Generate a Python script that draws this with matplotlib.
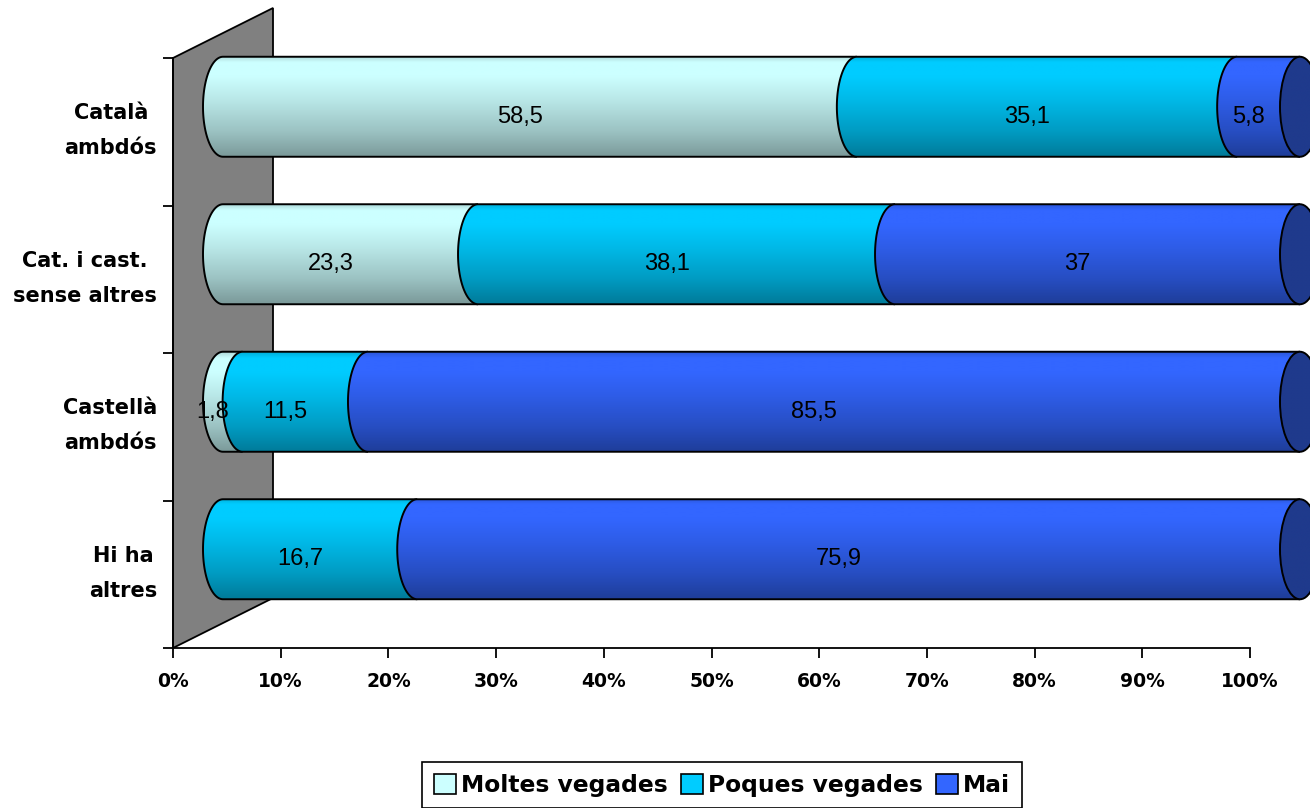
"""3D cylinder 100% stacked bars: language use by household type."""

import matplotlib

matplotlib.use("Agg")
import matplotlib.pyplot as plt
import numpy as np
from matplotlib.colors import to_rgb
from matplotlib.patches import Ellipse, Patch, PathPatch, Polygon
from matplotlib.path import Path


CATEGORIES = ["Català\nambdós", "Cat. i cast.\nsense altres", "Castellà\nambdós", "Hi ha\naltres"]
SERIES = ["Moltes vegades", "Poques vegades", "Mai"]
MOLTES_VEGADES = [58.5, 23.3, 1.8, 0.0]
POQUES_VEGADES = [35.1, 38.1, 11.5, 16.7]
MAI = [5.8, 37.0, 85.5, 75.9]
X_TICKS = [0, 10, 20, 30, 40, 50, 60, 70, 80, 90, 100]

COLORS = ["#CCFFFF", "#00CCFF", "#3366FF"]
CAP_COLOR = "#1F3A8C"
WALL_COLOR = "#808080"

# layout of the original picture, in pixels
W_PX, H_PX = 1310, 808
X0_PX, X100_PX = 173, 1250
YBOT_PX, YTOP_PX = 648, 58
DEPTH_PX = (100, 50)
BAR_PX = 100
CAP_PX = 20
CAT_PAD_PX = 16
CAT_RAISE_PX = 1

PX_X = (X100_PX - X0_PX) / 100.0
PX_Y = (YBOT_PX - YTOP_PX) / len(CATEGORIES)
DX = DEPTH_PX[0] / PX_X
DY = DEPTH_PX[1] / PX_Y
BAR_H = BAR_PX / PX_Y
CAP_W = CAP_PX / PX_X
LABEL_DEPTH = 0.3

SHADE_T = [0.0, 0.06, 0.2, 0.45, 0.75, 1.0]
SHADE_F = [0.85, 1.0, 1.0, 0.9, 0.76, 0.6]


def gradient(color, shade=True, n=240):
    t = np.linspace(0, 1, n)
    f = np.interp(t, SHADE_T, SHADE_F) if shade else np.ones(n)
    rgb = np.clip(np.outer(f, to_rgb(color)), 0, 1)
    return rgb.reshape(n, 1, 3)


def shaded_patch(ax, path, color, extent, zorder, shade=True):
    patch = PathPatch(path, facecolor="none", edgecolor="none", zorder=zorder)
    ax.add_patch(patch)
    im = ax.imshow(gradient(color, shade), extent=extent, aspect="auto",
                   origin="upper", zorder=zorder, interpolation="bilinear")
    im.set_clip_path(patch)
    im.set_clip_box(None)
    return im


def draw_segment(ax, x0, x1, cy, color, zorder):
    top, bot = cy + BAR_H / 2, cy - BAR_H / 2
    theta = np.linspace(np.pi / 2, 3 * np.pi / 2, 80)
    arc = np.column_stack([x0 + CAP_W * np.cos(theta), cy + BAR_H / 2 * np.sin(theta)])
    outline = np.vstack([[x1, top], arc, [x1, bot]])
    fill = Path(np.vstack([outline, outline[:1]]), closed=True)
    shaded_patch(ax, fill, color, (x0 - CAP_W, x1, bot, top), zorder)
    ax.add_patch(PathPatch(Path(outline), facecolor="none", edgecolor="black",
                           linewidth=1.4, zorder=zorder + 0.5))


def draw_end_cap(ax, xe, cy, zorder):
    theta = np.linspace(0, 2 * np.pi, 160)
    ring = np.column_stack([xe + CAP_W * np.cos(theta), cy + BAR_H / 2 * np.sin(theta)])
    path = Path(ring, closed=True)
    shaded_patch(ax, path, CAP_COLOR,
                 (xe - CAP_W, xe + CAP_W, cy - BAR_H / 2, cy + BAR_H / 2), zorder, shade=False)
    ax.add_patch(Ellipse((xe, cy), 2 * CAP_W, BAR_H, facecolor="none", edgecolor="black",
                         linewidth=1.4, zorder=zorder + 0.5))


def main():
    fig = plt.figure(figsize=(W_PX / 100, H_PX / 100), dpi=100)
    ax = fig.add_axes([0, 0, 1, 1])
    n = len(CATEGORIES)

    # back wall
    ax.add_patch(Polygon([(0, 0), (0, n), (DX, n + DY), (DX, DY)], closed=True,
                         facecolor=WALL_COLOR, edgecolor="black", linewidth=1.3, zorder=1))

    for spine in ("top", "right"):
        ax.spines[spine].set_visible(False)
    ax.spines["left"].set_position(("data", 0))
    ax.spines["bottom"].set_position(("data", 0))
    ax.spines["left"].set_bounds(0, n)
    ax.spines["bottom"].set_bounds(0, 100)
    for spine in ("left", "bottom"):
        ax.spines[spine].set_linewidth(1.3)

    ax.set_xticks(X_TICKS, [f"{t}%" for t in X_TICKS])
    ax.set_yticks(range(n + 1), [])
    ax.tick_params(axis="x", direction="out", length=7.2, width=1.3, pad=10, labelsize=13.5)
    ax.tick_params(axis="y", which="major", direction="out", length=7.2, width=1.3)
    for lbl in ax.get_xticklabels():
        lbl.set_fontweight("bold")

    # category names, two lines each, centred on their band
    for row, name in enumerate(CATEGORIES):
        i = n - 1 - row
        ax.text(-CAT_PAD_PX / PX_X, i + 0.5 + CAT_RAISE_PX / PX_Y, name, ha="right", va="center",
                multialignment="center", linespacing=1.95, fontsize=15, fontweight="bold")

    values = np.array([MOLTES_VEGADES, POQUES_VEGADES, MAI]).T
    for row, vals in enumerate(values):
        i = n - 1 - row
        cy = i + 0.5 + DY / 2
        pct = vals / vals.sum() * 100
        starts = np.concatenate([[0], np.cumsum(pct)[:-1]])
        z = 3
        for k, (s, w) in enumerate(zip(starts, pct)):
            if w <= 0:
                continue
            draw_segment(ax, s + DX / 2, s + w + DX / 2, cy, COLORS[k], z)
            z += 1
            label = f"{vals[k]:g}".replace(".", ",")
            ax.text(s + w / 2 + LABEL_DEPTH * DX, i + 0.5 + LABEL_DEPTH * DY, label,
                    ha="center", va="center", fontsize=17, family="Liberation Sans",
                    zorder=20)
        draw_end_cap(ax, 100 + DX / 2, cy, z)

    ax.set_xlim(-X0_PX / PX_X, (W_PX - X0_PX) / PX_X)
    ax.set_ylim(-(H_PX - YBOT_PX) / PX_Y, YBOT_PX / PX_Y)

    handles = [Patch(facecolor=c, edgecolor="black", linewidth=1.2) for c in COLORS]
    leg = fig.legend(handles, SERIES, loc="upper center",
                     bbox_to_anchor=(722 / W_PX, 1 - 762 / H_PX), ncol=3,
                     fancybox=False, edgecolor="black", framealpha=1,
                     prop={"weight": "bold", "size": 16.8},
                     handlelength=0.95, handleheight=0.95, handletextpad=0.22,
                     columnspacing=0.55, borderpad=0.5, borderaxespad=0)
    leg.get_frame().set_linewidth(1.2)

    fig.savefig("out.png", dpi=100)
    plt.close(fig)


if __name__ == "__main__":
    main()
